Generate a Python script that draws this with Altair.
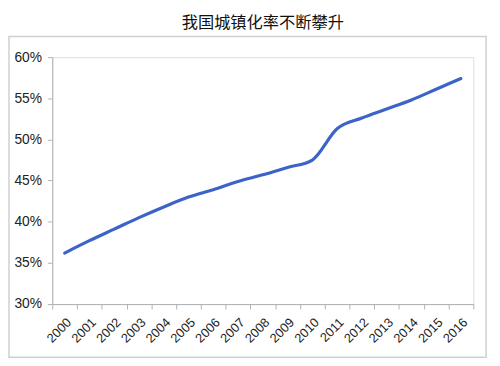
import altair as alt
import pandas as pd

years = [str(y) for y in range(2000, 2017)]
rates = [36.2, 37.7, 39.1, 40.5, 41.8, 43.0, 43.9, 44.9, 45.7, 46.6, 47.5,
         51.3, 52.6, 53.7, 54.8, 56.1, 57.4]

df = pd.DataFrame({"year": years, "rate": [r / 100 for r in rates]})

W, H = 428, 251
PL, PT = 45, 47

frame = alt.Chart(pd.DataFrame({"a": [0]})).mark_rect(
    fillOpacity=0, stroke="#d0d0d0", strokeWidth=1.5, clip=False
).encode(
    x=alt.value(9 - 8 - PL),
    x2=alt.value(494 - 8 - PL),
    y=alt.value(34 - 8 - PT),
    y2=alt.value(360 - 8 - PT),
)

line = alt.Chart(df).mark_line(
    color="#3b63c8", strokeWidth=3.2, interpolate="monotone", strokeCap="round"
).encode(
    x=alt.X("year:O", sort=years, title=None, bandPosition=0.5,
            scale=alt.Scale(type="band", paddingInner=0, paddingOuter=0),
            axis=alt.Axis(labelAngle=-45, labelFont="Liberation Sans", labelFontSize=13,
                          labelColor="#222", domainColor="#b0b0b0", tickColor="#b0b0b0",
                          tickSize=5, tickBand="extent", labelPadding=7, grid=False)),
    y=alt.Y("rate:Q", title=None,
            scale=alt.Scale(domain=[0.30, 0.60]),
            axis=alt.Axis(format=".0%", values=[0.30, 0.35, 0.40, 0.45, 0.50, 0.55, 0.60],
                          labelFont="Liberation Sans", labelFontSize=14, labelColor="#222",
                          domainColor="#b0b0b0", tickColor="#b0b0b0", tickSize=5,
                          labelPadding=6, grid=False)),
)

chart = alt.layer(frame, line).properties(
    width=W, height=H,
    title=alt.TitleParams("我国城镇化率不断攀升", font="Noto Sans CJK SC", fontSize=16.5,
                          fontWeight="normal", color="#111", anchor="middle", offset=4),
    autosize=alt.AutoSizeParams(type="none"),
    padding={"left": PL, "top": PT, "right": 500 - 8 - PL - W, "bottom": 366 - 8 - PT - H},
).configure_view(stroke=None).configure(background="white")

chart.save("out.html", embed_options={"renderer": "svg", "actions": False})
